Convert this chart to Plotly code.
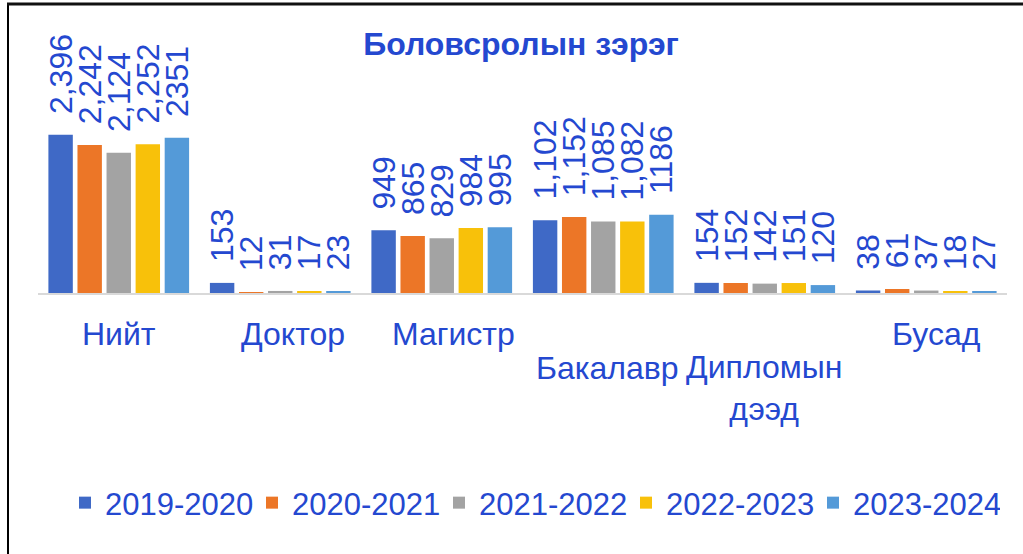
import plotly.graph_objects as go

categories = ["Нийт", "Доктор", "Магистр", "Бакалавр", "Дипломын дээд", "Бусад"]
series_names = ["2019-2020", "2020-2021", "2021-2022", "2022-2023", "2023-2024"]
v2019 = [2396, 153, 949, 1102, 154, 38]
v2020 = [2242, 12, 865, 1152, 152, 61]
v2021 = [2124, 31, 829, 1085, 142, 37]
v2022 = [2252, 17, 984, 1082, 151, 18]
v2023 = [2351, 23, 995, 1186, 120, 27]
series_values = [v2019, v2020, v2021, v2022, v2023]
label_formats = [",", ",", ",", ",", ""]

colors = ["#3F69C6", "#EC7627", "#A3A3A3", "#F8C10A", "#549AD8"]
text_blue = "#2448D0"
FONT = "Arial, Liberation Sans, sans-serif"

fig = go.Figure()
for name, vals, col, fmt in zip(series_names, series_values, colors, label_formats):
    fig.add_trace(go.Bar(
        x=categories, y=vals, name=name,
        marker=dict(color=col, line=dict(width=0)),
        texttemplate="\u00a0\u00a0%{y:" + fmt + "}" if fmt else "\u00a0\u00a0%{y}",
        textposition="outside", textangle=-90,
        textfont=dict(family=FONT, size=32, color=text_blue),
        constraintext="none", cliponaxis=False,
        hoverinfo="skip",
    ))

# category labels (Excel-style staggered placement)
label_rows = [0, 0, 0, 1, 1, 0]
label_shift = [0, 13, 12, 4, -1, 10]
label_text = ["Нийт", "Доктор", "Магистр", "Бакалавр", "Дипломын<br>дээд", "Бусад"]
row_y = [(293 - 334) / 198, (293 - 368) / 198]
annotations = []
for cat, txt, r, dx in zip(categories, label_text, label_rows, label_shift):
    annotations.append(dict(
        x=cat, xref="x", y=row_y[r], yref="paper",
        text=txt, showarrow=False, xshift=dx,
        yanchor="top" if "<br>" in txt else "middle",
        yshift=21 if "<br>" in txt else 0,
        align="center",
        font=dict(family=FONT, size=32, color=text_blue),
    ))

fig.update_layout(
    width=1023, height=554, autosize=False,
    margin=dict(l=38, r=16, t=95, b=261, pad=0),
    paper_bgcolor="white", plot_bgcolor="white",
    barmode="group", bargap=0.1, bargroupgap=0.16,
    title=dict(text="<b>Боловсролын зэрэг</b>", x=521 / 1023, xanchor="center",
               y=1 - 44 / 554, yanchor="middle", yref="container",
               font=dict(family=FONT, size=32, color=text_blue)),
    xaxis=dict(showticklabels=False, showline=True, linecolor="#D9D9D9", linewidth=2,
               ticks="", showgrid=False, zeroline=False),
    yaxis=dict(visible=False, range=[0, 3000], showgrid=False, zeroline=False),
    showlegend=True,
    legend=dict(orientation="h", x=(65 - 38) / 969, xanchor="left", y=(293 - 503) / 198,
                yanchor="middle", font=dict(family=FONT, size=31, color=text_blue),
                entrywidth=142, entrywidthmode="pixels",
                traceorder="normal", itemclick=False, bgcolor="rgba(0,0,0,0)"),
    annotations=annotations,
    shapes=[
        dict(type="line", xref="paper", yref="paper",
             x0=(8 - 38) / 969, x1=(8 - 38) / 969, y0=(293 - 3) / 198, y1=(293 - 560) / 198,
             line=dict(color="black", width=2)),
        dict(type="line", xref="paper", yref="paper",
             x0=(7 - 38) / 969, x1=(1030 - 38) / 969, y0=(293 - 4) / 198, y1=(293 - 4) / 198,
             line=dict(color="#111111", width=3)),
    ],
)

fig.write_html("out.html", config={"displayModeBar": False},
               post_script="document.body.style.margin='0';")
